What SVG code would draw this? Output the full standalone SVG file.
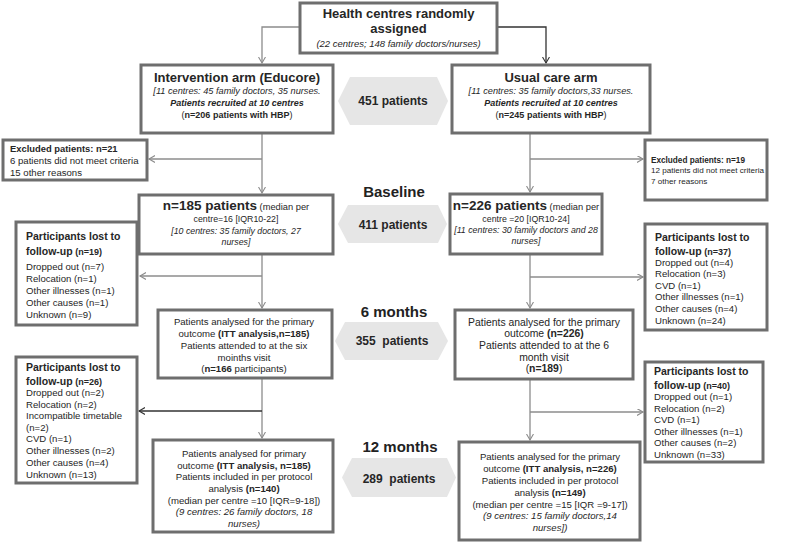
<svg xmlns="http://www.w3.org/2000/svg" width="799" height="543" viewBox="0 0 799 543">
<style>
text{font-family:"Liberation Sans",Arial,sans-serif;fill:#262626}
.box{fill:#fff;stroke:#6e6e6e;stroke-width:3}
.hex{fill:#e6e6e6;stroke:none}
.c{text-anchor:middle}
.b{font-weight:bold}
.i{font-style:italic}
.t13{font-size:13px;font-weight:bold}
.lbl{font-size:15px;font-weight:bold;text-anchor:middle;fill:#222}
.hx{font-size:12px;font-weight:bold;text-anchor:middle}
.s{font-size:9.6px}
.s9{font-size:9px}
.s88{font-size:8.8px}
.hd{font-size:10.5px;font-weight:bold}
.ln{fill:none;stroke:#8c8c8c;stroke-width:1.3}
.dk{fill:none;stroke:#333;stroke-width:1.3}
</style>
<defs>
<marker id="ag" markerUnits="userSpaceOnUse" markerWidth="9" markerHeight="9" refX="6" refY="3.5" orient="auto"><path d="M0,0 L6,3.5 L0,7" fill="none" stroke="#8c8c8c" stroke-width="1.1"/></marker>
<marker id="ad" markerUnits="userSpaceOnUse" markerWidth="9" markerHeight="9" refX="6" refY="3.5" orient="auto"><path d="M0,0 L6,3.5 L0,7" fill="none" stroke="#333" stroke-width="1.1"/></marker>
</defs>

<g id="connectors">
<path class="ln" d="M300,27 H262 V63" marker-end="url(#ag)"/>
<path class="dk" d="M497,27 H546 V63" marker-end="url(#ad)"/>
<path class="ln" d="M262,133 V193" marker-end="url(#ag)"/>
<path class="ln" d="M262,159 H149" marker-end="url(#ag)"/>
<path class="ln" d="M262,254 V308" marker-end="url(#ag)"/>
<path class="ln" d="M262,276 H140" marker-end="url(#ag)"/>
<path class="ln" d="M262,378 V438" marker-end="url(#ag)"/>
<path class="dk" d="M262,411 H139" marker-end="url(#ad)"/>
<path class="ln" d="M530,133 V192" marker-end="url(#ag)"/>
<path class="ln" d="M530,159 H643" marker-end="url(#ag)"/>
<path class="ln" d="M530,254 V308" marker-end="url(#ag)"/>
<path class="ln" d="M530,277 H643" marker-end="url(#ag)"/>
<path class="ln" d="M530,379 V440" marker-end="url(#ag)"/>
<path class="ln" d="M530,412 H643" marker-end="url(#ag)"/>
</g>

<g id="top">
<rect class="box" x="300" y="3" width="197" height="50"/>
<text class="t13 c" x="398.5" y="18">Health centres randomly</text>
<text class="t13 c" x="398.5" y="33">assigned</text>
<text class="i c" style="font-size:9.5px" x="398.5" y="47">(22 centres; 148 family doctors/nurses)</text>
</g>

<g id="intervention">
<rect class="box" x="141" y="65" width="192" height="68"/>
<text class="t13 c" x="237" y="82">Intervention arm (Educore)</text>
<text class="i c" style="font-size:9.2px" x="237" y="94">[11 centres: 45 family doctors, 35 nurses.</text>
<text class="b i c s9" x="237" y="106">Patients recruited at 10 centres</text>
<text class="c s9" x="237" y="118">(<tspan class="b">n=206 patients with HBP</tspan>)</text>
</g>

<g id="usual">
<rect class="box" x="452" y="65" width="198" height="68"/>
<text class="t13 c" x="551" y="82">Usual care arm</text>
<text class="i c" style="font-size:9.2px" x="551" y="94">[11 centres: 35 family doctors,33 nurses.</text>
<text class="b i c s9" x="551" y="106">Patients recruited at 10 centres</text>
<text class="c s9" x="551" y="118">(<tspan class="b">n=245 patients with HBP</tspan>)</text>
</g>

<g id="hex451">
<polygon class="hex" points="338,101 350,77 437,77 448,101 437,125 350,125"/>
<text class="hx" x="393" y="105">451 patients</text>
</g>

<g id="excl-left">
<rect class="box" x="3" y="140" width="144" height="40"/>
<text class="b" style="font-size:9.4px" x="10" y="152">Excluded patients: n=21</text>
<text style="font-size:9.6px" x="10" y="164">6 patients did not meet criteria</text>
<text style="font-size:9.6px" x="10" y="175.5">15 other reasons</text>
</g>

<g id="excl-right">
<rect class="box" x="645" y="140" width="122" height="60"/>
<text class="b" style="font-size:8.2px" x="651" y="162.5">Excluded patients: n=19</text>
<text style="font-size:8.1px" x="651" y="173">12 patients did not meet criteria</text>
<text style="font-size:8.1px" x="651" y="183.5">7 other reasons</text>
</g>

<text class="lbl" x="394" y="197">Baseline</text>
<g id="hex411">
<polygon class="hex" points="338,224 348,205 438,205 447,224 438,243 348,243"/>
<text class="hx" x="393" y="229">411 patients</text>
</g>

<g id="base-left">
<rect class="box" x="139" y="195" width="194" height="59"/>
<text class="c" x="236" y="210"><tspan class="b" style="font-size:13.5px">n=185 patients</tspan><tspan style="font-size:9.3px"> (median per</tspan></text>
<text class="c s88" x="236" y="222">centre=16 [IQR10-22]</text>
<text class="c i s88" x="236" y="233.5">[10 centres: 35 family doctors, 27</text>
<text class="c i s88" x="236" y="244.5">nurses]</text>
</g>

<g id="base-right">
<rect class="box" x="450" y="194" width="152" height="60"/>
<text class="c" x="526" y="210"><tspan class="b" style="font-size:13.5px">n=226 patients</tspan><tspan style="font-size:9.3px"> (median per</tspan></text>
<text class="c s88" x="526" y="221.5">centre =20 [IQR10-24]</text>
<text class="c i s88" x="526" y="232.5">[11 centres: 30 family doctors and 28</text>
<text class="c i s88" x="526" y="243.5">nurses]</text>
</g>

<g id="lost-left-6">
<rect class="box" x="16" y="222" width="121" height="103"/>
<text class="hd" x="26" y="240">Participants lost to</text>
<text class="hd" x="26" y="255">follow-up<tspan style="font-size:9px"> (n=19)</tspan></text>
<text class="s" x="26" y="270">Dropped out (n=7)</text>
<text class="s" x="26" y="282">Relocation (n=1)</text>
<text class="s" x="26" y="294">Other illnesses (n=1)</text>
<text class="s" x="26" y="306">Other causes (n=1)</text>
<text class="s" x="26" y="317.5">Unknown (n=9)</text>
</g>

<g id="lost-right-6">
<rect class="box" x="645" y="224" width="122" height="106"/>
<text class="hd" x="655" y="240.5">Participants lost to</text>
<text class="hd" x="655" y="255">follow-up<tspan style="font-size:9px"> (n=37)</tspan></text>
<text class="s" x="655" y="265.5">Dropped out (n=4)</text>
<text class="s" x="655" y="277">Relocation (n=3)</text>
<text class="s" x="655" y="288.5">CVD (n=1)</text>
<text class="s" x="655" y="300">Other illnesses (n=1)</text>
<text class="s" x="655" y="312">Other causes (n=4)</text>
<text class="s" x="655" y="323.5">Unknown (n=24)</text>
</g>

<text class="lbl" x="394" y="317">6 months</text>
<g id="hex355">
<polygon class="hex" points="335,341 345,322 438,322 448,341 438,360 345,360"/>
<text class="hx" x="392" y="345" xml:space="preserve">355  patients</text>
</g>

<g id="six-left">
<rect class="box" x="158" y="310" width="174" height="68"/>
<text class="c s" x="244" y="325">Patients analysed for the primary</text>
<text class="c s" x="244" y="337">outcome <tspan class="b">(ITT analysis,n=185)</tspan></text>
<text class="c s" x="244" y="349">Patients attended to at the six</text>
<text class="c s" x="244" y="360.5">moinths visit</text>
<text class="c s" x="244" y="372">(<tspan class="b">n=166</tspan> participants)</text>
</g>

<g id="six-right">
<rect class="box" x="455" y="310" width="178" height="69"/>
<text class="c" style="font-size:10.4px" x="544" y="325.5">Patients analysed for the primary</text>
<text class="c" style="font-size:10.4px" x="544" y="337">outcome <tspan class="b">(n=226)</tspan></text>
<text class="c" style="font-size:10.4px" x="544" y="349">Patients attended to at the 6</text>
<text class="c" style="font-size:10.4px" x="544" y="360.5">month visit</text>
<text class="c" style="font-size:10.4px" x="544" y="372">(<tspan class="b">n=189</tspan>)</text>
</g>

<g id="lost-left-12">
<rect class="box" x="16" y="357" width="121" height="126"/>
<text class="hd" x="26" y="371">Participants lost to</text>
<text class="hd" x="26" y="385">follow-up<tspan style="font-size:9px"> (n=26)</tspan></text>
<text class="s" x="26" y="396">Dropped out (n=2)</text>
<text class="s" x="26" y="408">Relocation (n=2)</text>
<text class="s" x="26" y="419">Incompatible timetable</text>
<text class="s" x="26" y="431">(n=2)</text>
<text class="s" x="26" y="442">CVD (n=1)</text>
<text class="s" x="26" y="453.5">Other illnesses (n=2)</text>
<text class="s" x="26" y="466">Other causes (n=4)</text>
<text class="s" x="26" y="477.5">Unknown (n=13)</text>
</g>

<g id="lost-right-12">
<rect class="box" x="645" y="362" width="118" height="100"/>
<text class="hd" x="654" y="375">Participants lost to</text>
<text class="hd" x="654" y="389">follow-up<tspan style="font-size:9px"> (n=40)</tspan></text>
<text class="s" x="654" y="400">Dropped out (n=1)</text>
<text class="s" x="654" y="411.5">Relocation (n=2)</text>
<text class="s" x="654" y="423">CVD (n=1)</text>
<text class="s" x="654" y="434.5">Other illnesses (n=1)</text>
<text class="s" x="654" y="446">Other causes (n=2)</text>
<text class="s" x="654" y="457.5">Unknown (n=33)</text>
</g>

<text class="lbl" x="400" y="452">12 months</text>
<g id="hex289">
<polygon class="hex" points="342,477.5 352,458 447,458 456,477.5 447,497 352,497"/>
<text class="hx" x="399" y="482.5" xml:space="preserve">289  patients</text>
</g>

<g id="twelve-left">
<rect class="box" x="153" y="440" width="180" height="92"/>
<text class="c s" x="244" y="457">Patients analysed for primary</text>
<text class="c s" x="244" y="468.5">outcome <tspan class="b">(ITT analysis, n=185)</tspan></text>
<text class="c s" x="244" y="480">Patients included in per protocol</text>
<text class="c s" x="244" y="491.5">analysis <tspan class="b">(n=140)</tspan></text>
<text class="c s" x="244" y="503.5">(median per centre =10 [IQR=9-18])</text>
<text class="c s i" x="244" y="515">(9 centres: 26 family doctors, 18</text>
<text class="c s i" x="244" y="526.5">nurses)</text>
</g>

<g id="twelve-right">
<rect class="box" x="459" y="442" width="181" height="98"/>
<text class="c s" x="550" y="460">Patients analysed for the primary</text>
<text class="c s" x="550" y="472">outcome <tspan class="b">(ITT analysis, n=226)</tspan></text>
<text class="c s" x="550" y="484">Patients included in per protocol</text>
<text class="c s" x="550" y="495.5">analysis <tspan class="b">(n=149)</tspan></text>
<text class="c s" x="550" y="507.5">(median per centre =15 [IQR =9-17])</text>
<text class="c s i" x="550" y="519">(9 centres: 15 family doctors,14</text>
<text class="c s i" x="550" y="531">nurses])</text>
</g>
</svg>
